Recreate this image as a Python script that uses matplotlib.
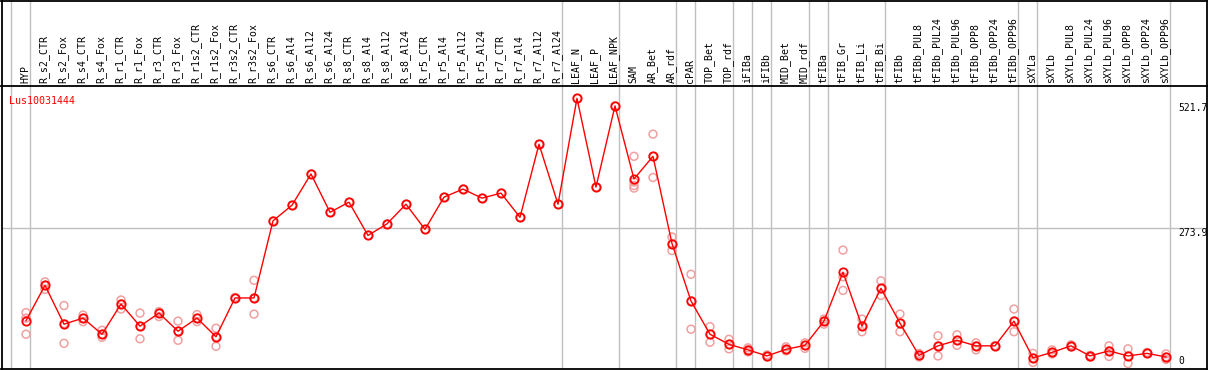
import numpy as np
import matplotlib.pyplot as plt

# categories (one per column)
labels = ['HYP', 'R_s2_CTR', 'R_s2_Fox', 'R_s4_CTR', 'R_s4_Fox', 'R_r1_CTR', 'R_r1_Fox',
          'R_r3_CTR', 'R_r3_Fox', 'R_r1s2_CTR', 'R_r1s2_Fox', 'R_r3s2_CTR', 'R_r3s2_Fox',
          'R_s6_CTR', 'R_s6_Al4', 'R_s6_Al12', 'R_s6_Al24', 'R_s8_CTR', 'R_s8_Al4',
          'R_s8_Al12', 'R_s8_Al24', 'R_r5_CTR', 'R_r5_Al4', 'R_r5_Al12', 'R_r5_Al24',
          'R_r7_CTR', 'R_r7_Al4', 'R_r7_Al12', 'R_r7_Al24', 'LEAF_N', 'LEAF_P', 'LEAF_NPK',
          'SAM', 'AR_Bet', 'AR_rdf', 'cPAR', 'TOP_Bet', 'TOP_rdf', 'iFIBa', 'iFIBb',
          'MID_Bet', 'MID_rdf', 'tFIBa', 'tFIB_Gr', 'tFIB_Li', 'tFIB_Bi', 'tFIBb',
          'tFIBb_PUL8', 'tFIBb_PUL24', 'tFIBb_PUL96', 'tFIBb_OPP8', 'tFIBb_OPP24',
          'tFIBb_OPP96', 'sXYLa', 'sXYLb', 'sXYLb_PUL8', 'sXYLb_PUL24', 'sXYLb_PUL96',
          'sXYLb_OPP8', 'sXYLb_OPP24', 'sXYLb_OPP96']

# mean expression per category
means = [90, 160, 83, 95, 63, 123, 79, 105, 69, 95, 58, 135, 135,
         288, 319, 381, 305, 325, 259, 282, 321, 271, 335, 351, 333,
         343, 295, 440, 321, 531, 355, 516,
         371, 416, 243, 129, 63, 43, 32, 20, 33, 41, 89, 186, 79, 154, 85,
         21, 40, 51, 40, 40, 89, 16, 27, 40, 20, 30, 20, 25, 18]

# replicate values per category
reps = [[106, 95, 63], [167, 152, 160], [120, 84, 45], [101, 88, 95], [71, 57, 63],
        [131, 113, 123], [105, 79, 54], [108, 98, 105], [89, 69, 51], [102, 88, 95],
        [75, 58, 39], [135, 136, 135], [170, 135, 103],
        [288], [319], [381], [305], [325], [259], [282], [321], [271], [335], [351], [333],
        [343], [295], [440], [321], [531], [355], [516],
        [416, 365, 358, 353], [460, 416, 374], [256, 243, 229], [182, 129, 73],
        [78, 63, 47], [53, 43, 34], [36, 32, 28], [22, 20, 18], [38, 33, 30],
        [46, 41, 35], [93, 89, 83], [230, 177, 150], [93, 79, 68], [169, 154, 140],
        [103, 85, 68], [25, 21, 18], [60, 40, 20], [62, 51, 41], [46, 40, 32],
        [40, 40], [113, 89, 68], [25, 16, 7], [32, 27, 24], [42, 40, 38],
        [21, 20, 18], [40, 30, 19], [34, 20, 5], [27, 25], [24, 18, 13]]

# group separators come after these columns
group_ends = [-1, 0, 28, 31, 34, 35, 37, 38, 39, 41, 42, 45, 52, 53, 60]

gene = 'Lus10031444'
ytick_vals = [521.7, 273.9, 0]

W, H = 1209, 370
fig = plt.figure(figsize=(W / 100, H / 100), dpi=100)
mono = 'DejaVu Sans Mono'


def px_axes(x0, y0, x1, y1):
    return fig.add_axes([x0 / W, 1 - y1 / H, (x1 - x0) / W, (y1 - y0) / H])


head = px_axes(1.5, 0.5, 1207, 86)
ax = px_axes(1.5, 86, 1207, 369)

x = np.arange(len(labels))
xlim = (-1.29, 62.16)
for a in (head, ax):
    a.set_xlim(*xlim)
    a.set_xticks([])
    a.set_yticks([])
    for s in a.spines.values():
        s.set_color('black')
        s.set_linewidth(1.3)
    for g in group_ends:
        a.axvline(g + 0.22, color='#c0c0c0', lw=1, zorder=0)
head.spines['bottom'].set_visible(False)
head.set_ylim(0, 1)

for i, lab in enumerate(labels):
    head.text(i - 0.05, 0.04, lab, rotation=90, ha='center', va='bottom',
              fontsize=7.1, family=mono)

ax.set_ylim(-5.95, 555.5)
ax.axhline(273.9, color='#c0c0c0', lw=1, zorder=0)

rx = [i for i, r in enumerate(reps) for _ in r]
ry = [v for r in reps for v in r]
ax.scatter(rx, ry, s=32, facecolors='none', edgecolors='#f0a0a0', linewidths=1.1, zorder=2)
ax.plot(x, means, color='red', lw=1, marker='o', ms=6, mfc='none', mec='red',
        mew=1.3, zorder=3)

ax.text(-0.9, 526, gene, color='red', fontsize=7.2, family=mono, ha='left', va='center')

for v in ytick_vals:
    ax.text(60.66, v, f'{v:g}', fontsize=7, family=mono, ha='left',
            va='bottom' if v == 0 else 'top')

fig.savefig('out.png', dpi=100)
